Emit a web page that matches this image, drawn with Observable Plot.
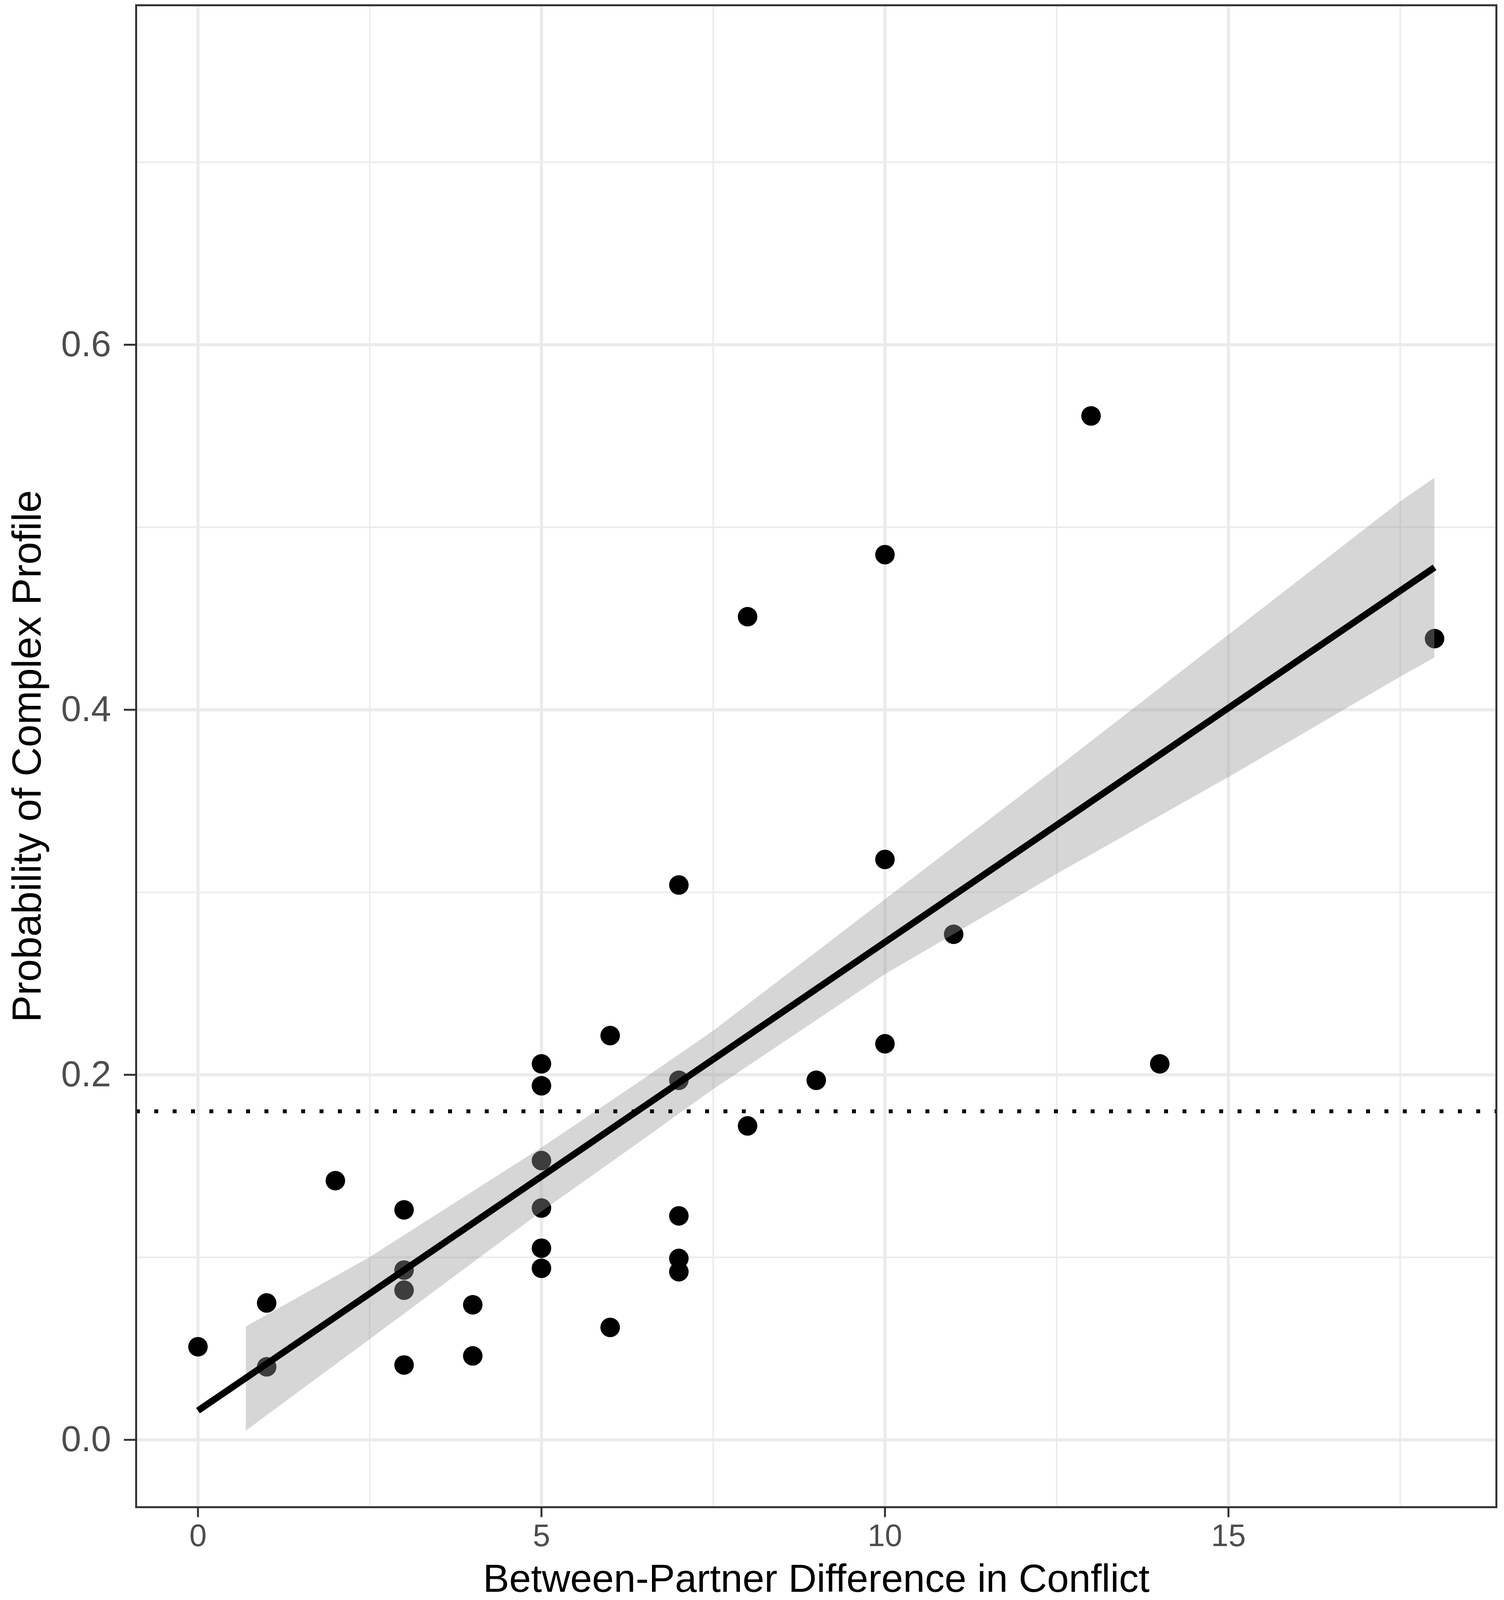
<!DOCTYPE html>
<html>
<head>
<meta charset="utf-8">
<script src="https://cdn.jsdelivr.net/npm/d3@7"></script>
<script src="https://cdn.jsdelivr.net/npm/@observablehq/plot@0.6"></script>
<style>
  html, body { margin: 0; padding: 0; background: #ffffff; overflow: hidden; }
  svg { display: block; }
</style>
</head>
<body>
<script>
// Observed points
const diffX = [0, 1, 1, 2, 3, 3, 3, 3, 4, 4, 5, 5, 5, 5, 5, 5, 6, 6, 7, 7, 7, 7, 7, 8, 8, 9, 10, 10, 10, 11, 13, 14, 18];
const probY = [0.051, 0.075, 0.040, 0.142, 0.126, 0.093, 0.082, 0.041, 0.074, 0.046,
               0.206, 0.194, 0.153, 0.127, 0.105, 0.094, 0.2215, 0.0616,
               0.304, 0.197, 0.1227, 0.0994, 0.0921, 0.451, 0.172, 0.197,
               0.485, 0.318, 0.217, 0.277, 0.561, 0.206, 0.439];

// Fitted line (endpoints)
const fitX = [0, 18];
const fitY = [0.016, 0.478];

// Confidence band
const bandX  = [0.7, 2.5, 5, 6.5, 7.5, 10, 12.5, 15, 17.5, 18];
const bandLo = [0.005, 0.055, 0.125, 0.165, 0.192, 0.255, 0.310, 0.363, 0.418, 0.4285];
const bandHi = [0.062, 0.100, 0.160, 0.198, 0.224, 0.296, 0.368, 0.441, 0.514, 0.527];

// Reference (dotted) line
const refY = [0.18];

// Ticks
const xMajor = [0, 5, 10, 15];
const xMinor = [2.5, 7.5, 12.5, 17.5];
const yMajor = [0, 0.2, 0.4, 0.6];
const yMinor = [0.1, 0.3, 0.5, 0.7];

const xTitle = "Between-Partner Difference in Conflict";
const yTitle = "Probability of Complex Profile";

const points = diffX.map((x, i) => ({x, y: probY[i]}));
const band = bandX.map((x, i) => ({x, lo: bandLo[i], hi: bandHi[i]}));
const fit = fitX.map((x, i) => ({x, y: fitY[i]}));

const FONT = "'Liberation Sans', Arial, Helvetica, sans-serif";

// Fit the 3850 x 4731 design into the actual viewport height
const W = 3850;
const H = Math.min(4731, window.innerHeight || 4731);
const k = H / 4731;

const chart = Plot.plot({
  width: W,
  height: H,
  marginLeft: 348,
  marginRight: 20,
  marginTop: 15 * k,
  marginBottom: 275 * k,
  style: {background: "#ffffff", fontFamily: FONT, overflow: "visible"},
  x: {domain: [-0.9, 18.9]},
  y: {domain: [-0.0369, 0.786]},
  marks: [
    Plot.gridX(xMinor, {stroke: "#EBEBEB", strokeOpacity: 1, strokeWidth: 4}),
    Plot.gridY(yMinor, {stroke: "#EBEBEB", strokeOpacity: 1, strokeWidth: 4}),
    Plot.gridX(xMajor, {stroke: "#EBEBEB", strokeOpacity: 1, strokeWidth: 8}),
    Plot.gridY(yMajor, {stroke: "#EBEBEB", strokeOpacity: 1, strokeWidth: 8}),
    Plot.dot(points, {x: "x", y: "y", r: 25, fill: "#000000", stroke: null}),
    Plot.areaY(band, {x: "x", y1: "lo", y2: "hi", fill: "#999999", fillOpacity: 0.4}),
    Plot.line(fit, {x: "x", y: "y", stroke: "#000000", strokeWidth: 17, strokeLinecap: "butt"}),
    Plot.ruleY(refY, {stroke: "#000000", strokeWidth: 10, strokeDasharray: "10 37"}),
    Plot.frame({stroke: "#333333", strokeWidth: 5}),
    Plot.axisX({ticks: xMajor, tickSize: 30 * k, tickPadding: 20 * k, stroke: "#333333", strokeWidth: 5,
                fill: "#4D4D4D", fontSize: 92 * k, fontFamily: FONT, label: null, tickFormat: d3.format("d")}),
    Plot.axisY({ticks: yMajor, tickSize: 31, tickPadding: 33, stroke: "#333333", strokeWidth: 5,
                fill: "#4D4D4D", fontSize: 92, fontFamily: FONT, label: null, tickFormat: d3.format(".1f")}),
    Plot.text([xTitle], {frameAnchor: "bottom", dy: 250 * k, lineAnchor: "bottom", textAnchor: "middle",
                         fontSize: 116 * k, fontFamily: FONT, fill: "#000000"}),
    Plot.text([yTitle], {frameAnchor: "left", dx: -245, rotate: -90, lineAnchor: "bottom", textAnchor: "middle",
                         fontSize: 120 * k, fontFamily: FONT, fill: "#000000"})
  ]
});

document.body.appendChild(chart);
</script>
</body>
</html>
